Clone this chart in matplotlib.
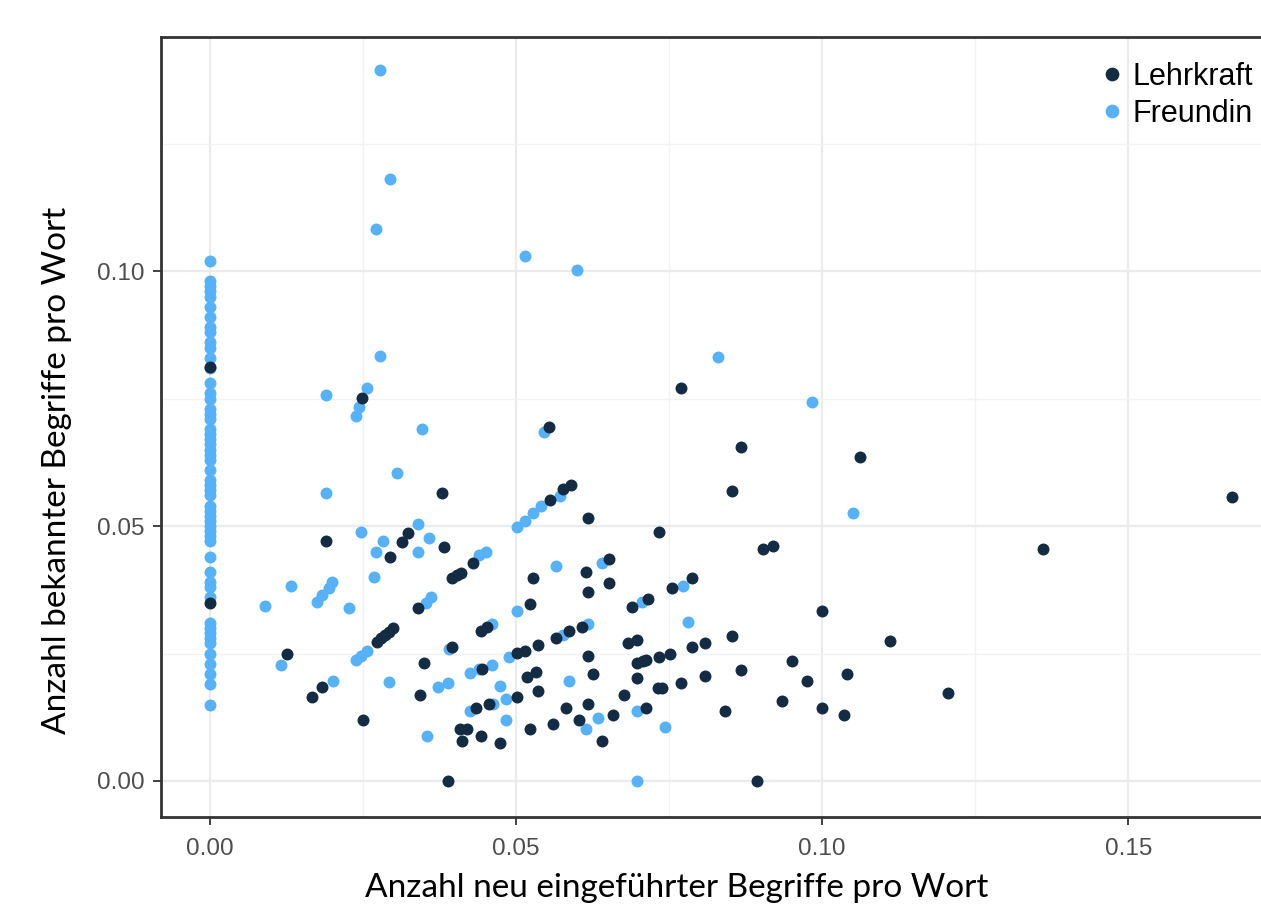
import matplotlib
matplotlib.use("Agg")
import matplotlib.pyplot as plt
from matplotlib.ticker import MultipleLocator
import numpy as np

series_names = ["Lehrkraft", "Freundin"]
series_colors = ["#132B43", "#56B1F7"]

# Freundin: column at x = 0
freundin_zero_y = [0.102, 0.098, 0.097, 0.096, 0.095, 0.093, 0.091, 0.089, 0.088, 0.086,
                   0.085, 0.083, 0.081, 0.078, 0.076, 0.075, 0.073, 0.072, 0.071, 0.069,
                   0.068, 0.067, 0.066, 0.065, 0.064, 0.063, 0.061, 0.059, 0.058, 0.057,
                   0.056, 0.054, 0.053, 0.052, 0.051, 0.050, 0.049, 0.048, 0.047, 0.044,
                   0.041, 0.039, 0.038, 0.036, 0.031, 0.030, 0.029, 0.028, 0.027, 0.025,
                   0.023, 0.021, 0.019, 0.015]

freundin_other_x = [0.0278, 0.0294, 0.0272, 0.0514, 0.0599, 0.0278, 0.0830, 0.0190, 0.0257, 0.0244,
                    0.0239, 0.0347, 0.0306, 0.0190, 0.0247, 0.0283, 0.0272, 0.0339, 0.0358, 0.0339,
                    0.0546, 0.0502, 0.0514, 0.0527, 0.0541, 0.0571, 0.0984, 0.1051, 0.0566, 0.0640,
                    0.0772, 0.0353, 0.0361, 0.0502, 0.0705, 0.0780, 0.0461, 0.0391, 0.0576, 0.0618,
                    0.0488, 0.0424, 0.0440, 0.0461, 0.0373, 0.0388, 0.0473, 0.0484, 0.0587, 0.0424,
                    0.0463, 0.0484, 0.0633, 0.0615, 0.0697, 0.0744, 0.0355, 0.0698, 0.0132, 0.0090,
                    0.0175, 0.0183, 0.0195, 0.0200, 0.0227, 0.0268, 0.0239, 0.0247, 0.0257, 0.0116,
                    0.0293, 0.0201, 0.0440, 0.0451]
freundin_other_y = [0.1394, 0.1180, 0.1082, 0.1029, 0.1002, 0.0833, 0.0832, 0.0757, 0.0771, 0.0733,
                    0.0716, 0.0690, 0.0604, 0.0565, 0.0488, 0.0470, 0.0449, 0.0504, 0.0476, 0.0449,
                    0.0684, 0.0498, 0.0510, 0.0525, 0.0539, 0.0559, 0.0744, 0.0525, 0.0422, 0.0427,
                    0.0383, 0.0349, 0.0360, 0.0333, 0.0351, 0.0312, 0.0308, 0.0259, 0.0286, 0.0308,
                    0.0243, 0.0212, 0.0220, 0.0227, 0.0184, 0.0192, 0.0186, 0.0161, 0.0196, 0.0137,
                    0.0151, 0.0120, 0.0124, 0.0102, 0.0137, 0.0106, 0.0088, 0.0000, 0.0383, 0.0343,
                    0.0351, 0.0365, 0.0378, 0.0390, 0.0339, 0.0400, 0.0237, 0.0245, 0.0255, 0.0227,
                    0.0194, 0.0196, 0.0443, 0.0449]

lehrkraft_x = [0.0, 0.0, 0.0249, 0.0379, 0.0190, 0.0294, 0.0324, 0.0314, 0.0383, 0.0553,
               0.0556, 0.0576, 0.0589, 0.0770, 0.0867, 0.0853, 0.0618, 0.0733, 0.0904, 0.0919,
               0.1062, 0.1669, 0.1361, 0.0615, 0.0651, 0.0527, 0.0788, 0.0618, 0.0651, 0.0755,
               0.0339, 0.0522, 0.0689, 0.0715, 0.0443, 0.0453, 0.0396, 0.0350, 0.0566, 0.0587,
               0.0607, 0.0682, 0.0697, 0.0853, 0.0808, 0.0788, 0.0999, 0.1111, 0.0950, 0.0867,
               0.0808, 0.0976, 0.1040, 0.1205, 0.0935, 0.0841, 0.0999, 0.1035, 0.0893, 0.0502,
               0.0515, 0.0536, 0.0618, 0.0625, 0.0698, 0.0707, 0.0713, 0.0733, 0.0752, 0.0698,
               0.0731, 0.0739, 0.0770, 0.0677, 0.0444, 0.0343, 0.0502, 0.0536, 0.0435, 0.0455,
               0.0581, 0.0618, 0.0658, 0.0602, 0.0561, 0.0522, 0.0640, 0.0713, 0.0409, 0.0420,
               0.0412, 0.0443, 0.0473, 0.0388, 0.0518, 0.0533, 0.0396, 0.0404, 0.0410, 0.0429,
               0.0273, 0.0280, 0.0286, 0.0293, 0.0299, 0.0126, 0.0183, 0.0167, 0.0250]
lehrkraft_y = [0.0811, 0.0350, 0.0751, 0.0565, 0.0470, 0.0439, 0.0486, 0.0469, 0.0459, 0.0694,
               0.0551, 0.0573, 0.0580, 0.0771, 0.0654, 0.0569, 0.0516, 0.0488, 0.0455, 0.0461,
               0.0636, 0.0557, 0.0454, 0.0410, 0.0435, 0.0398, 0.0398, 0.0370, 0.0388, 0.0378,
               0.0339, 0.0347, 0.0341, 0.0357, 0.0294, 0.0302, 0.0263, 0.0231, 0.0280, 0.0294,
               0.0302, 0.0271, 0.0276, 0.0284, 0.0271, 0.0263, 0.0333, 0.0275, 0.0236, 0.0218,
               0.0205, 0.0196, 0.0209, 0.0173, 0.0156, 0.0138, 0.0143, 0.0129, 0.0000, 0.0251,
               0.0255, 0.0267, 0.0245, 0.0210, 0.0231, 0.0235, 0.0237, 0.0243, 0.0249, 0.0202,
               0.0182, 0.0182, 0.0192, 0.0169, 0.0220, 0.0169, 0.0165, 0.0176, 0.0143, 0.0151,
               0.0143, 0.0151, 0.0129, 0.0120, 0.0112, 0.0102, 0.0078, 0.0143, 0.0102, 0.0102,
               0.0078, 0.0088, 0.0075, 0.0000, 0.0204, 0.0214, 0.0398, 0.0404, 0.0408, 0.0427,
               0.0273, 0.0280, 0.0286, 0.0292, 0.0300, 0.0249, 0.0184, 0.0165, 0.0120]

x_ticks = [0.00, 0.05, 0.10, 0.15]
y_ticks = [0.00, 0.05, 0.10]
tick_labels_x = ["0.00", "0.05", "0.10", "0.15"]
tick_labels_y = ["0.00", "0.05", "0.10"]
x_label = "Anzahl neu eingeführter Begriffe pro Wort"
y_label = "Anzahl bekannter Begriffe pro Wort"

W, H = 1261, 909
fig = plt.figure(figsize=(W / 100, H / 100), dpi=100)
ax_left, ax_right, ax_top, ax_bottom = 161, 1274, 37, 817
ax = fig.add_axes([ax_left / W, 1 - ax_bottom / H, (ax_right - ax_left) / W, (ax_bottom - ax_top) / H])
ax_w = ax_right - ax_left
ax_h = ax_bottom - ax_top

freundin_x = [0.0] * len(freundin_zero_y) + freundin_other_x
freundin_y = freundin_zero_y + freundin_other_y

s = 74
h_f = ax.scatter(freundin_x, freundin_y, s=s, color=series_colors[1], linewidths=0, zorder=3,
                 label=series_names[1])
h_l = ax.scatter(lehrkraft_x, lehrkraft_y, s=s, color=series_colors[0], linewidths=0, zorder=4,
                 label=series_names[0])

ax.set_xlim(-0.0080, 0.1738)
ax.set_ylim(-0.00706, 0.1459)

ax.set_xticks(x_ticks)
ax.set_xticklabels(tick_labels_x)
ax.set_yticks(y_ticks)
ax.set_yticklabels(tick_labels_y)
ax.xaxis.set_minor_locator(MultipleLocator(0.025))
ax.yaxis.set_minor_locator(MultipleLocator(0.025))

ax.grid(True, which="major", color="#EBEBEB", linewidth=1.6, zorder=0)
ax.grid(True, which="minor", color="#F2F2F2", linewidth=1.0, zorder=0)
ax.set_axisbelow(True)

for side in ["left", "top", "bottom", "right"]:
    ax.spines[side].set_color("#333333")
    ax.spines[side].set_linewidth(2.0)

ax.tick_params(axis="both", which="major", length=6, width=1.3, color="#333333",
               labelcolor="#4D4D4D", labelsize=17.5)
ax.tick_params(axis="x", which="major", pad=9)
ax.tick_params(axis="y", which="major", pad=6)
ax.tick_params(axis="both", which="minor", length=0)
for lab in ax.get_xticklabels() + ax.get_yticklabels():
    lab.set_fontfamily(["Liberation Sans", "DejaVu Sans"])

ax.set_xlabel(x_label, fontsize=24, family=["Lato", "DejaVu Sans"], color="black")
ax.set_ylabel(y_label, fontsize=24, family=["Lato", "DejaVu Sans"], color="black")
ax.xaxis.set_label_coords((677 - ax_left) / ax_w, -(888 - ax_bottom) / ax_h)
ax.yaxis.set_label_coords(-(ax_left - 57) / ax_w, (ax_bottom - 470) / ax_h)
ax.xaxis.label.set_va("center")
ax.yaxis.label.set_va("center")

leg = ax.legend(handles=[h_l, h_f], labels=series_names, loc="upper left",
                bbox_to_anchor=((1103 - ax_left) / ax_w, (ax_bottom - 62) / ax_h),
                frameon=False, handletextpad=0.35, labelspacing=0.22, borderaxespad=0,
                borderpad=0, handlelength=0.6, scatteryoffsets=[0.5], markerscale=1.15,
                prop={"family": ["Liberation Sans", "DejaVu Sans"], "size": 22})

fig.savefig("out.png", dpi=100, facecolor="white")
